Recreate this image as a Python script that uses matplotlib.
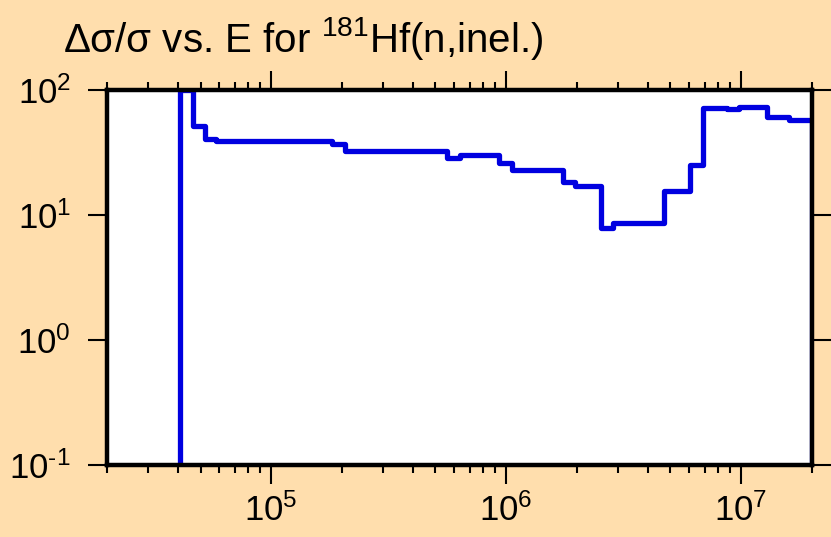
import math
import matplotlib
matplotlib.use('Agg')
import matplotlib.pyplot as plt
import matplotlib.ticker as mticker

plt.rcParams['font.family'] = ['Liberation Sans', 'DejaVu Sans']
plt.rcParams['mathtext.fontset'] = 'custom'
plt.rcParams['mathtext.rm'] = 'Liberation Sans'
plt.rcParams['mathtext.it'] = 'Liberation Sans:italic'
plt.rcParams['axes.unicode_minus'] = False

# Group boundaries (eV) and relative uncertainty (%)
edges = [4.08e4, 4.63e4, 5.21e4, 5.8e4, 1.82e5, 2.07e5, 5.61e5, 6.37e5,
         9.3e5, 1.06e6, 1.74e6, 1.96e6, 2.53e6, 2.84e6, 4.68e6, 6.04e6,
         6.86e6, 8.75e6, 9.85e6, 1.29e7, 1.6e7, 2.0e7]
rel_err = [100, 51.5, 40.6, 39.2, 37.0, 32.5, 28.6, 30.2, 26.1, 22.9,
           18.4, 17.1, 7.87, 8.63, 15.6, 25.1, 71.8, 70.5, 73.1, 60.8, 57.5]

# pad with values below the axis so the outer verticals are drawn
xs = [1e4] + edges + [5e7]
ys = [1e-3] + rel_err + [1e-3, 1e-3]

bg = '#ffdead'
fig = plt.figure(figsize=(8.31, 5.37), dpi=100, facecolor=bg)
ax = fig.add_axes([0.1288, 0.134, 0.848, 0.698])
ax.set_facecolor('white')

ax.step(xs, ys, where='post', color='#0000e0', linewidth=3.8, zorder=2)

ax.set_xscale('log')
ax.set_yscale('log')
ax.set_xlim(2e4, 2e7)
ax.set_ylim(0.1, 100)

def pow10(v, pos):
    p = round(math.log10(v))
    exp = str(p).replace('-', '\u2010')
    return r'$\mathregular{10^{%s}}$' % exp

ax.xaxis.set_major_locator(mticker.LogLocator(base=10, numticks=10))
ax.xaxis.set_minor_locator(mticker.LogLocator(base=10, subs=range(2, 10), numticks=20))
ax.xaxis.set_minor_formatter(mticker.NullFormatter())
ax.yaxis.set_major_locator(mticker.LogLocator(base=10, numticks=10))
ax.yaxis.set_minor_locator(mticker.NullLocator())
ax.xaxis.set_major_formatter(mticker.FuncFormatter(pow10))
ax.yaxis.set_major_formatter(mticker.FuncFormatter(pow10))

for s in ax.spines.values():
    s.set_linewidth(3.2)
    s.set_zorder(2.5)

ax.tick_params(axis='both', which='major', direction='out', length=14,
               width=1.5, labelsize=25, top=True, right=True)
ax.tick_params(axis='y', which='major', pad=12)
ax.tick_params(axis='x', which='major', pad=6)
ax.tick_params(axis='x', which='minor', direction='out', length=6,
               width=1.5, top=True)

fig.text(0.076, 1 - 52 / 537, 'Δσ/σ vs. E for $\\mathregular{^{181}}$Hf(n,inel.)',
         fontsize=29, ha='left', va='baseline')

fig.savefig('out.png', dpi=100, facecolor=bg)
